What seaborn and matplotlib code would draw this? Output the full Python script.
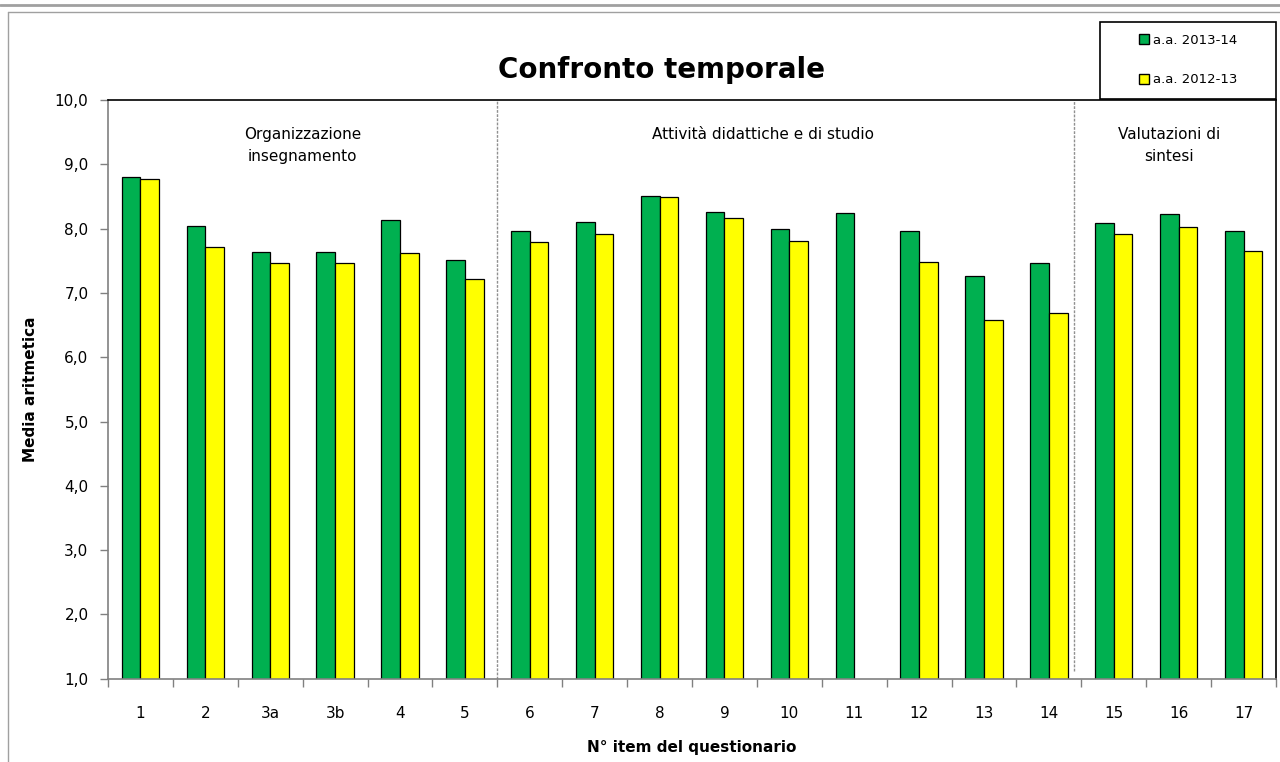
import numpy as np
import pandas as pd
import matplotlib.pyplot as plt
import seaborn as sns
from matplotlib.lines import Line2D
from matplotlib.patches import Rectangle, Patch

# Data
items = ["1", "2", "3a", "3b", "4", "5", "6", "7", "8", "9",
         "10", "11", "12", "13", "14", "15", "16", "17"]
aa_1314 = [8.80, 8.04, 7.63, 7.64, 8.14, 7.51, 7.97, 8.11, 8.50, 8.26,
           8.00, 8.25, 7.96, 7.26, 7.46, 8.09, 8.22, 7.96]
aa_1213 = [8.77, 7.72, 7.47, 7.47, 7.62, 7.21, 7.79, 7.92, 8.49, 8.17,
           7.81, np.nan, 7.48, 6.58, 6.68, 7.92, 8.02, 7.65]
series = ["a.a. 2013-14", "a.a. 2012-13"]
colors = ["#00B050", "#FFFF00"]

groups = ["Organizzazione\ninsegnamento", "Attività didattiche e di studio", "Valutazioni di\nsintesi"]
group_x = [2.5, 9.6, 15.85]

df = pd.DataFrame({
    "item": items * 2,
    "value": aa_1314 + aa_1213,
    "serie": [series[0]] * len(items) + [series[1]] * len(items),
})

sns.set_style("white")
plt.rcParams["font.family"] = ["DejaVu Sans"]
plt.rcParams["text.color"] = "black"
plt.rcParams["axes.labelcolor"] = "black"
plt.rcParams["xtick.color"] = "black"
plt.rcParams["ytick.color"] = "black"

fig = plt.figure(figsize=(12.8, 7.62), dpi=100)
ax = fig.add_axes([108 / 1280, 1 - 678.7 / 762, (1276 - 108) / 1280, (678.7 - 100) / 762])

sns.barplot(data=df, x="item", y="value", hue="serie", order=items,
            hue_order=series, palette=colors, width=0.576,
            edgecolor="black", linewidth=0.9, saturation=1, ax=ax)
ax.legend_.remove()

ax.set_xlim(-0.5, len(items) - 0.5)
ax.set_ylim(1, 10)
ax.set_yticks(range(1, 11))
ax.set_yticklabels([f"{v},0" for v in range(1, 11)], fontsize=11)
ax.set_xticks(range(len(items)))
ax.set_xticklabels(items, fontsize=11)
ax.set_xticks(np.arange(-0.5, len(items)), minor=True)
ax.tick_params(axis="x", which="major", bottom=True, length=0, pad=20)
ax.tick_params(axis="x", which="minor", bottom=True, length=6, color="#808080",
               width=1, direction="out")
ax.tick_params(axis="y", left=True, length=6, color="#808080", width=1,
               direction="out", pad=8, labelcolor="black")
ax.grid(False)

for side in ["left", "bottom"]:
    ax.spines[side].set_color("#808080")
    ax.spines[side].set_linewidth(1.2)
for side in ["top", "right"]:
    ax.spines[side].set_color("black")
    ax.spines[side].set_linewidth(1.2)

ax.set_xlabel("N° item del questionario", fontsize=11, fontweight="bold")
ax.xaxis.set_label_coords(0.5, (678.7 - 740) / 578.7)
ax.set_ylabel("Media aritmetica", fontsize=11, fontweight="bold")
ax.yaxis.set_label_coords((38 - 108) / 1168, 0.5)

# section separators
ax.plot([5.5, 5.5], [1, 10], color="#909090", lw=1, ls=(0, (2, 1)))
ax.plot([14.385, 14.385], [1.12, 10], color="#909090", lw=1, ls=(0, (2, 1)))

for gx, label in zip(group_x, groups):
    ax.text(gx, 9.58, label, ha="center", va="top", fontsize=11, linespacing=1.6)

fig.text(661 / 1280, 1 - 70 / 762, "Confronto temporale", ha="center", va="center",
         fontsize=20, fontweight="bold")

# legend box
fig.add_artist(Rectangle((1100 / 1280, 1 - 99 / 762), 176 / 1280, 77 / 762,
                         transform=fig.transFigure, fill=False, edgecolor="black", lw=1.2))
handles = [Patch(facecolor=c, edgecolor="black", label=s) for c, s in zip(colors, series)]
fig.legend(handles=handles, loc="center", bbox_to_anchor=(1188 / 1280, 1 - 60 / 762),
           frameon=False, fontsize=9.5, handlelength=0.8, handleheight=0.8,
           handletextpad=0.3, labelspacing=2.0)

# chart frame lines
fig.add_artist(Line2D([0, 1], [1 - 5 / 762, 1 - 5 / 762], transform=fig.transFigure,
                      color="#a0a0a0", lw=2))
fig.add_artist(Line2D([8 / 1280, 1], [1 - 12 / 762, 1 - 12 / 762], transform=fig.transFigure,
                      color="#a0a0a0", lw=1))
fig.add_artist(Line2D([8 / 1280, 8 / 1280], [0, 1 - 12 / 762], transform=fig.transFigure,
                      color="#a0a0a0", lw=1))

fig.savefig("out.png", dpi=100)
